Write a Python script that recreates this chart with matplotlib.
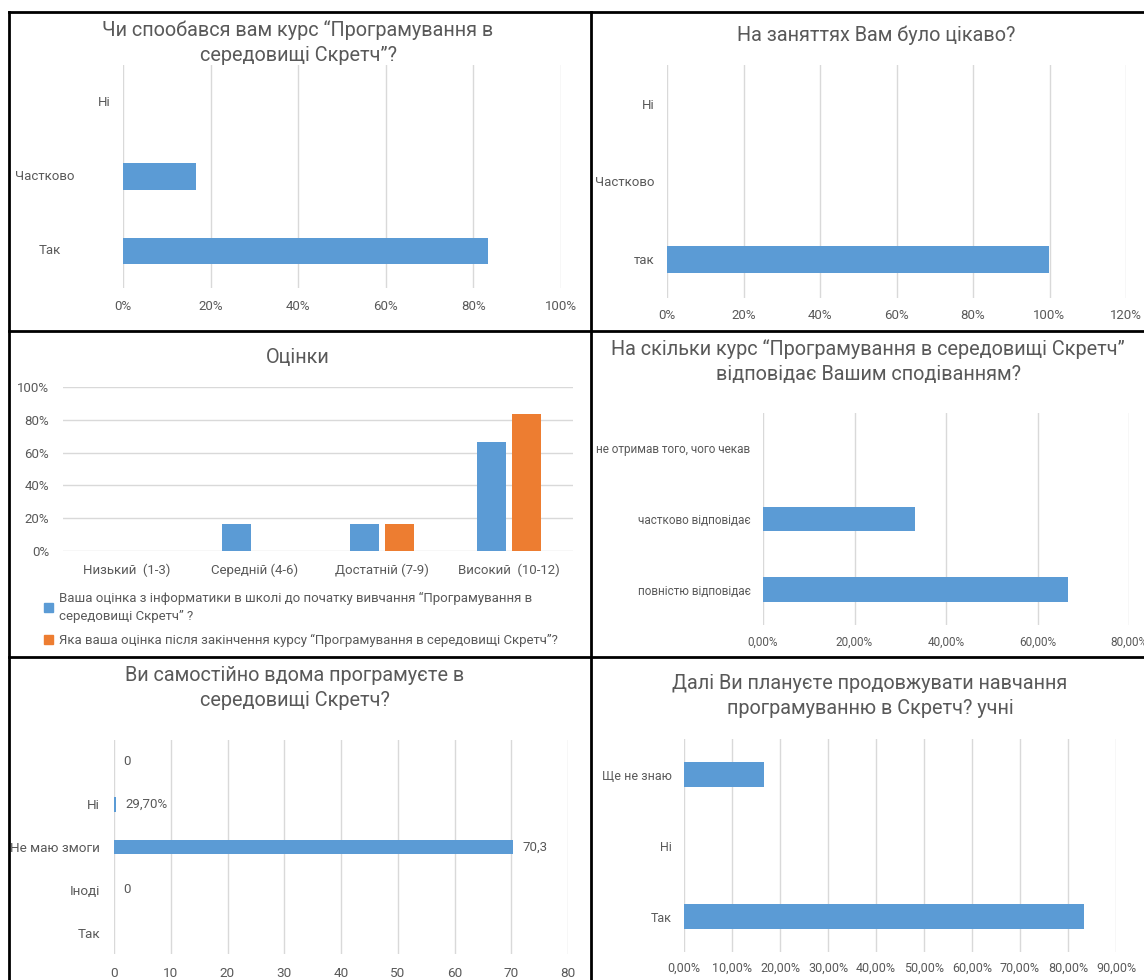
import matplotlib
matplotlib.use("Agg")
import matplotlib.pyplot as plt
import numpy as np
from matplotlib.lines import Line2D
from matplotlib.patches import Patch
from matplotlib.ticker import FuncFormatter, MultipleLocator
from matplotlib.transforms import blended_transform_factory

W, H = 1144, 980
BLUE = "#5B9BD5"
ORANGE = "#ED7D31"
TEXT = "#595959"
GRID = "#D9D9D9"

# --- data -------------------------------------------------------------
liked_cats = ["Так", "Частково", "Ні"]
liked_vals = [0.833, 0.167, 0.0]

interest_cats = ["так", "Частково", "Ні"]
interest_vals = [1.0, 0.0, 0.0]

grade_cats = ["Низький  (1-3)", "Середній (4-6)", "Достатній (7-9)", "Високий  (10-12)"]
grade_before = [0.0, 0.167, 0.167, 0.667]
grade_after = [0.0, 0.0, 0.167, 0.833]
grade_series = [
    "Ваша оцінка з інформатики в школі до початку вивчання “Програмування в\nсередовищі Скретч” ?",
    "Яка ваша оцінка після закінчення курсу “Програмування в середовищі Скретч”?",
]

expect_cats = ["повністю відповідає", "частково відповідає", "не отримав того, чого чекав"]
expect_vals = [0.667, 0.333, 0.0]

home_cats = ["Так", "Іноді", "Не маю змоги", "Ні", ""]
home_vals = [0.0, 0.0, 70.3, 0.297, 0.0]
home_labels = ["", "0", "70,3", "29,70%", "0"]

plan_cats = ["Так", "Ні", "Ще не знаю"]
plan_vals = [0.833, 0.0, 0.167]

plt.rcParams["font.family"] = ["Roboto", "DejaVu Sans"]


def pct0(v, _):
    return f"{v * 100:.0f}%"


def pct2(v, _):
    return f"{v * 100:.2f}%".replace(".", ",")


def axes_px(fig, x0, y0, x1, y1):
    return fig.add_axes([x0 / W, 1 - y1 / H, (x1 - x0) / W, (y1 - y0) / H])


def title_px(fig, cx, cy, text, size=14.3):
    fig.text(cx / W, 1 - cy / H, text, ha="center", va="center",
             fontsize=size, color=TEXT, linespacing=1.4)


def hbar(ax, cats, vals, xmax, step, fmt, fs=9.5, pad_x=8, pad_y=9, height=0.35):
    y = np.arange(len(cats))
    bars = ax.barh(y, vals, height=height, color=BLUE, zorder=2)
    ax.set_ylim(-0.5, len(cats) - 0.5)
    ax.set_xlim(0, xmax)
    ax.xaxis.set_major_locator(MultipleLocator(step))
    ax.xaxis.set_major_formatter(FuncFormatter(fmt))
    ax.set_yticks(y, cats)
    ax.grid(axis="x", color=GRID, lw=1)
    ax.set_axisbelow(True)
    for s in ax.spines.values():
        s.set_visible(False)
    ax.tick_params(length=0, colors=TEXT, labelsize=fs)
    ax.tick_params(axis="x", pad=pad_x)
    ax.tick_params(axis="y", pad=pad_y)
    return bars


fig = plt.figure(figsize=(W / 100, H / 100), dpi=100)

# panel 1
ax1 = axes_px(fig, 123, 65, 561, 288)
hbar(ax1, liked_cats, liked_vals, 1.0, 0.2, pct0, pad_x=9)
ax1.set_yticklabels([])
tr = blended_transform_factory(ax1.transAxes, ax1.transData)
for cat, px, yy in zip(liked_cats, [50, 45, 104], range(len(liked_cats))):
    ax1.text((px - 123) / 438, yy, cat, ha="center", va="center",
             fontsize=9.5, color=TEXT, transform=tr)
title_px(fig, 298, 43, "Чи спообався вам курс “Програмування в\nсередовищі Скретч”?")

# panel 2
ax2 = axes_px(fig, 667, 65, 1126, 298)
hbar(ax2, interest_cats, interest_vals, 1.2, 0.2, pct0, pad_x=8)
title_px(fig, 876, 35, "На заняттях Вам було цікаво?")

# panel 3
ax3 = axes_px(fig, 63, 387, 573, 551)
x = np.arange(len(grade_cats))
ax3.bar(x - 0.138, grade_before, 0.227, color=BLUE, zorder=2)
ax3.bar(x + 0.138, grade_after, 0.227, color=ORANGE, zorder=2)
ax3.set_xlim(-0.5, len(grade_cats) - 0.5)
ax3.set_ylim(0, 1.0)
ax3.yaxis.set_major_locator(MultipleLocator(0.2))
ax3.yaxis.set_major_formatter(FuncFormatter(pct0))
ax3.set_xticks(x, grade_cats)
ax3.grid(axis="y", color=GRID, lw=1)
ax3.set_axisbelow(True)
for s in ax3.spines.values():
    s.set_visible(False)
ax3.tick_params(length=0, colors=TEXT, labelsize=9.5)
ax3.tick_params(axis="x", pad=9)
ax3.tick_params(axis="y", pad=10)
title_px(fig, 298, 357, "Оцінки")
leg = fig.legend(
    handles=[Patch(color=BLUE), Patch(color=ORANGE)],
    labels=grade_series,
    loc="upper left", bbox_to_anchor=(44 / W, 1 - 592 / H),
    frameon=False, fontsize=9.5, labelcolor=TEXT,
    handlelength=0.7, handleheight=0.7, handletextpad=0.4,
    labelspacing=0.85, borderpad=0, borderaxespad=0,
)
for t in leg.get_texts():
    t.set_linespacing(1.45)

# panel 4
ax4 = axes_px(fig, 763, 413, 1129, 625)
hbar(ax4, expect_cats, expect_vals, 0.8, 0.2, pct2, fs=8.5, pad_x=8, pad_y=9)
title_px(fig, 868, 362, "На скільки курс “Програмування в середовищі Скретч”\nвідповідає Вашим сподіванням?")

# panel 5
ax5 = axes_px(fig, 114, 740, 568, 954)
b5 = hbar(ax5, home_cats, home_vals, 80, 10, lambda v, _: f"{v:.0f}",
          fs=9.7, pad_x=9, pad_y=10)
ax5.bar_label(b5, labels=home_labels, padding=7, fontsize=9.5, color=TEXT)
title_px(fig, 295, 688, "Ви самостійно вдома програмуєте в\nсередовищі Скретч?")

# panel 6
ax6 = axes_px(fig, 684, 739, 1116, 952)
hbar(ax6, plan_cats, plan_vals, 0.9, 0.1, pct2, fs=9, pad_x=7, pad_y=9)
title_px(fig, 870, 696, "Далі Ви плануєте продовжувати навчання\nпрограмуванню в Скретч? учні")

# table borders
for x0, y0, x1, y1 in [(9, 12, W, 12), (9, 12, 9, H), (591, 12, 591, H),
                       (9, 331, W, 331), (9, 657, W, 657)]:
    fig.add_artist(Line2D([x0 / W, x1 / W], [1 - y0 / H, 1 - y1 / H],
                          transform=fig.transFigure, color="black", lw=2))

fig.savefig("out.png", dpi=100)
